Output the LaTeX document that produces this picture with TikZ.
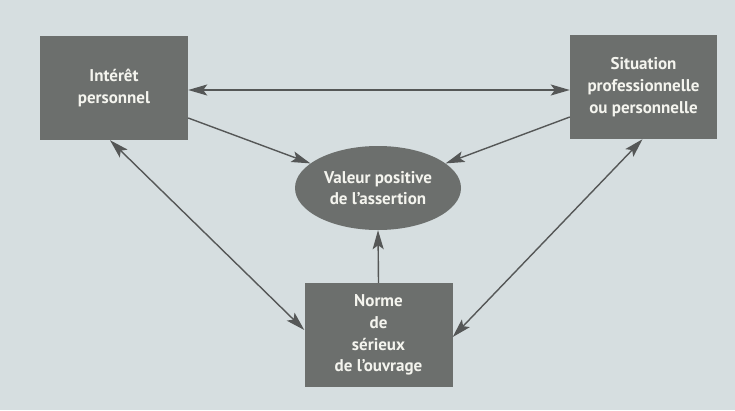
\documentclass[tikz,border=0pt]{standalone}
\usepackage{fontspec}
\setmainfont[Ligatures=NoCommon]{PT Sans}
\usetikzlibrary{shapes.geometric,arrows.meta}
\definecolor{bgc}{HTML}{D6DEE0}
\definecolor{boxc}{HTML}{6C6F6D}
\definecolor{linec}{HTML}{555757}
\definecolor{txtc}{HTML}{F4F4EE}
\tikzset{
  boxnode/.style={draw=none, fill=boxc, minimum width=148pt, minimum height=104pt, inner sep=0pt,
    text=txtc, font=\fontsize{17}{21.7}\selectfont\bfseries, align=center},
  ellnode/.style={ellipse, draw=none, fill=boxc, minimum width=166pt, minimum height=84pt, inner sep=0pt,
    text=txtc, font=\fontsize{17}{21.7}\selectfont\bfseries, align=center},
  tip/.tip={Stealth[length=19pt,width=11pt,inset=4pt]},
  arr/.style={draw=linec, line width=1.4pt, -tip},
  darr/.style={draw=linec, line width=1.4pt, tip-tip}
}
\begin{document}
\begin{tikzpicture}[x=1pt,y=-1pt]
\fill[bgc] (0,0) rectangle (735,410);
\useasboundingbox (0,0) rectangle (735,410);
\node[boxnode] (L) at (114,88) {Intérêt\\personnel};
\node[boxnode, minimum width=147pt] (R) at (643.5,87) {Situation\\professionnelle\\ou personnelle};
\node[ellnode] (E) at (378,188) {Valeur positive\\de l’assertion};
\node[boxnode] (B) at (378.5,335) {Norme\\de\\sérieux\\de l’ouvrage};
\draw[darr] ([yshift=-2pt]L.east) -- ([yshift=-3pt]R.west);
\draw[arr] ([yshift=-30pt]L.east) -- (E.160);
\draw[arr] ([yshift=-30pt]R.west) -- (E.20);
\draw[darr] ([xshift=-4pt]L.south) -- ([yshift=5pt]B.west);
\draw[darr] ([xshift=-1pt]R.south) -- ([yshift=-2pt]B.east);
\draw[arr] (B.north) -- (E.south);
\end{tikzpicture}
\end{document}
